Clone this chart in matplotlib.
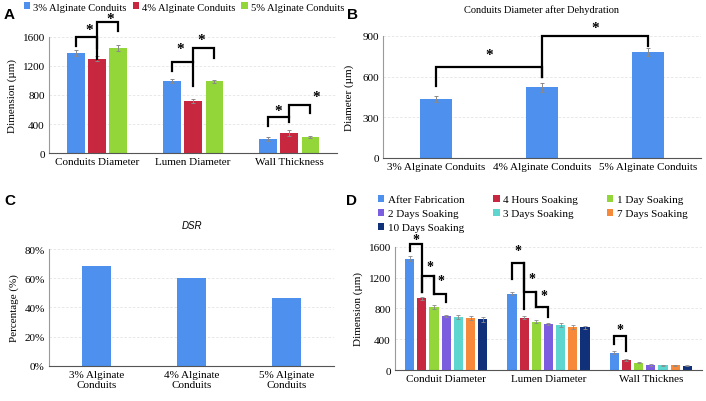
import numpy as np
import matplotlib
matplotlib.use("Agg")
import matplotlib.pyplot as plt

plt.rcParams['font.family'] = ['Liberation Serif', 'DejaVu Serif']

# ---- data ----
groups_a = ['Conduits Diameter', 'Lumen Diameter', 'Wall Thickness']
series_a = ['3% Alginate Conduits', '4% Alginate Conduits', '5% Alginate Conduits']
vals_a = [[1380, 990, 190], [1300, 720, 280], [1450, 990, 225]]
errs_a = [[40, 30, 30], [35, 30, 40], [40, 20, 15]]

cats_b = ['3% Alginate Conduits', '4% Alginate Conduits', '5% Alginate Conduits']
vals_b = [435, 520, 785]
errs_b = [20, 30, 30]

cats_c = ['3% Alginate\nConduits', '4% Alginate\nConduits', '5% Alginate\nConduits']
vals_c = [0.685, 0.605, 0.462]

groups_d = ['Conduit Diameter', 'Lumen Diameter', 'Wall Thicknes']
series_d = ['After Fabrication', '4 Hours Soaking', '1 Day Soaking', '2 Days Soaking',
            '3 Days Soaking', '7 Days Soaking', '10 Days Soaking']
vals_d = [[1447, 990, 227], [932, 680, 126], [820, 630, 95], [702, 600, 65],
          [692, 585, 62], [680, 556, 62], [660, 556, 57]]
errs_d = [[30, 20, 15], [20, 20, 12], [25, 25, 10], [15, 15, 8],
          [25, 20, 8], [25, 25, 8], [35, 20, 6]]

c3 = ['#4d90ee', '#c8283f', '#92d63a']
cd = ['#4d90ee', '#c8283f', '#92d63a', '#7b5ee0', '#5dd6d0', '#f78a3a', '#10307a']
ecol = '#8a8a8a'
grid_c = '#e4e4e4'


def style(ax):
    for s in ['top', 'right']:
        ax.spines[s].set_visible(False)
    ax.spines['left'].set_color('#9a9a9a')
    ax.spines['bottom'].set_color('#555555')
    ax.tick_params(length=0, labelsize=8, pad=3)
    ax.yaxis.grid(True, color=grid_c, lw=0.6, ls=(0, (3, 2)))
    ax.set_axisbelow(True)


def bracket(ax, x1, x2, ytop, y1, y2, sx, sy, size=11):
    ax.plot([x1, x1, x2, x2], [y1, ytop, ytop, y2], color='black', lw=1.6,
            clip_on=False, solid_joinstyle='miter')
    ax.text(sx, sy, '*', ha='center', va='center', fontsize=size,
            fontweight='bold', clip_on=False)


fig = plt.figure(figsize=(7.06, 4.02), dpi=100)

# ---------- A ----------
axA = fig.add_axes([0.0694, 0.6169, 0.408, 0.2886])
style(axA)
x = np.arange(len(groups_a))
off_a = [-0.22, 0.0, 0.22]
bars_a = []
for i in range(3):
    b = axA.bar(x + off_a[i], vals_a[i], width=0.18, color=c3[i], label=series_a[i],
                yerr=errs_a[i], ecolor=ecol, capsize=1.5, error_kw=dict(lw=0.7, capthick=0.7))
    bars_a.append(b)
axA.set_xlim(-0.5, 2.5)
axA.set_ylim(0, 1600)
axA.set_yticks([0, 400, 800, 1200, 1600])
axA.set_xticks(x)
axA.set_xticklabels(groups_a, fontsize=8)
axA.set_ylabel('Dimension (µm)', fontsize=8, labelpad=4)
bracket(axA, -0.22, 0.0, 1600, 1476, 1300, -0.085, 1710)
bracket(axA, 0.0, 0.22, 1807, 1448, 1683, 0.135, 1860)
bracket(axA, 0.78, 1.0, 1255, 1131, 924, 0.865, 1440)
bracket(axA, 1.0, 1.22, 1448, 1255, 1310, 1.085, 1560)
bracket(axA, 1.78, 2.0, 497, 372, 428, 1.885, 590)
bracket(axA, 2.0, 2.22, 662, 497, 552, 2.28, 775)
fig.legend(handles=bars_a, loc='center', bbox_to_anchor=(184 / 706, 1 - 8 / 402),
           ncol=3, frameon=False, fontsize=7.6, handlelength=0.6, handleheight=0.6,
           handletextpad=0.3, columnspacing=0.55, borderpad=0)

# ---------- B ----------
axB = fig.add_axes([0.5425, 0.6045, 0.4504, 0.3035])
style(axB)
xb = np.arange(len(cats_b))
axB.bar(xb, vals_b, width=0.31, color=c3[0], yerr=errs_b, ecolor=ecol, capsize=1.5,
        error_kw=dict(lw=0.7, capthick=0.7))
axB.set_xlim(-0.5, 2.5)
axB.set_ylim(0, 900)
axB.set_yticks([0, 300, 600, 900])
axB.set_xticks(xb)
axB.set_xticklabels(cats_b, fontsize=8)
axB.set_ylabel('Diameter (µm)', fontsize=8, labelpad=6)
axB.set_title('Conduits Diameter after Dehydration', fontsize=7.5, pad=17)
bracket(axB, 0, 1, 671, 531, 598, 0.5, 767)
bracket(axB, 1, 2, 900, 598, 826, 1.5, 966)

# ---------- C ----------
axC = fig.add_axes([0.0694, 0.0871, 0.4037, 0.291])
style(axC)
xc = np.arange(len(cats_c))
axC.bar(xc, vals_c, width=0.31, color=c3[0])
axC.set_xlim(-0.5, 2.5)
axC.set_ylim(0, 0.8)
axC.set_yticks([0, 0.2, 0.4, 0.6, 0.8])
axC.set_yticklabels(['0%', '20%', '40%', '60%', '80%'])
axC.set_xticks(xc)
axC.set_xticklabels(cats_c, fontsize=8, linespacing=1.05)
axC.set_ylabel('Percentage (%)', fontsize=8, labelpad=4)
axC.set_title('DSR', fontsize=7, style='italic', family='Liberation Sans', pad=15)

# ---------- D ----------
axD = fig.add_axes([0.5595, 0.0771, 0.4348, 0.306])
style(axD)
xd = np.arange(len(groups_d))
slot = 0.119
bars_d = []
for i in range(7):
    b = axD.bar(xd + (i - 3) * slot, vals_d[i], width=0.09, color=cd[i], label=series_d[i],
                yerr=errs_d[i], ecolor=ecol, capsize=1.2, error_kw=dict(lw=0.6, capthick=0.6))
    bars_d.append(b)
axD.set_xlim(-0.5, 2.5)
axD.set_ylim(0, 1600)
axD.set_yticks([0, 400, 800, 1200, 1600])
axD.set_xticks(xd)
axD.set_xticklabels(groups_d, fontsize=8)
axD.set_ylabel('Dimension (µm)', fontsize=8, labelpad=4)
p = lambda g, i: g + (i - 3) * slot
bracket(axD, p(0, 0), p(0, 1), 1644, 1543, 1020, p(0, 0.5), 1700, 10)
bracket(axD, p(0, 1), p(0, 2), 1221, 1020, 990, p(0, 1.7), 1347, 10)
bracket(axD, p(0, 2), p(0, 3), 990, 1221, 889, p(0, 2.6), 1164, 10)
bracket(axD, p(1, 0), p(1, 1), 1391, 1186, 793, p(1, 0.5), 1556, 10)
bracket(axD, p(1, 1), p(1, 2), 1011, 1391, 815, p(1, 1.6), 1186, 10)
bracket(axD, p(1, 2), p(1, 3), 815, 1011, 684, p(1, 2.6), 968, 10)
bracket(axD, p(2, 0), p(2, 1), 445, 336, 248, p(2, 0.5), 530, 10)
order = [0, 3, 6, 1, 4, 2, 5]
fig.legend(handles=[bars_d[k] for k in order], loc='upper left',
           bbox_to_anchor=(372 / 706, 1 - 190 / 402), ncol=3, frameon=False, fontsize=8,
           handlelength=0.6, handleheight=0.6, handletextpad=0.3, columnspacing=2.6,
           labelspacing=0.42, borderpad=0)

# panel letters
for lab, px, py in [('A', 4, 15), ('B', 347, 15), ('C', 4, 201), ('D', 346, 201)]:
    fig.text(px / 706, 1 - py / 402, lab, fontsize=11, fontweight='bold',
             family='Liberation Sans', va='center')

fig.savefig('out.png', dpi=100)
